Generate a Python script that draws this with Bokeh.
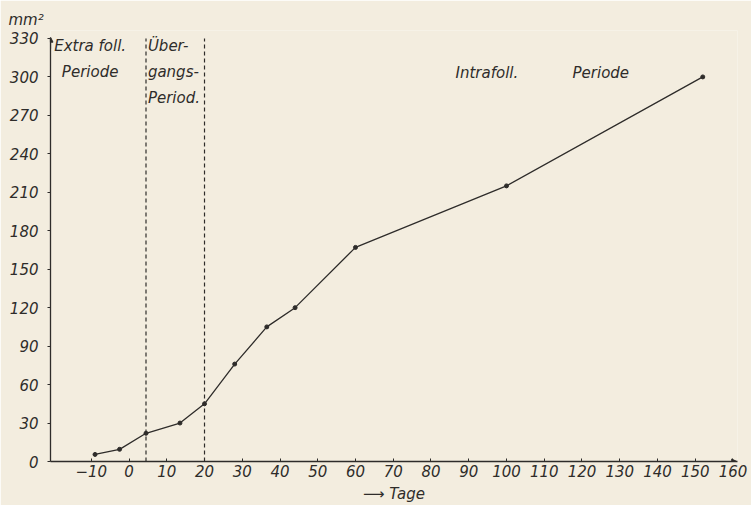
from bokeh.plotting import figure
from bokeh.models import Label, Arrow, NormalHead, FixedTicker, Range1d
from bokeh.embed import file_html
from bokeh.resources import INLINE

# Data
days = [-9, -2.5, 4.5, 13.5, 20, 28, 36.5, 44, 60, 100, 152]
area = [5.5, 9.5, 22, 30, 45, 76, 105, 120, 167, 215, 300]
period_bounds = [4.5, 20]
x_ticks = [-10, 0, 10, 20, 30, 40, 50, 60, 70, 80, 90, 100, 110, 120, 130, 140, 150, 160]
y_ticks = [0, 30, 60, 90, 120, 150, 180, 210, 240, 270, 300, 330]

FONT = "DejaVu Sans"
INK = "#2e2c2a"
PAPER = "#f3eddf"

p = figure(width=751, height=505, output_backend="svg", toolbar_location=None,
           x_range=Range1d(-20.8, 161.2), y_range=Range1d(0, 336.2),
           min_border_left=50, min_border_right=14, min_border_top=30, min_border_bottom=44)
p.background_fill_color = PAPER
p.border_fill_color = PAPER
p.outline_line_color = None
p.grid.visible = False

p.title.text = "mm²"
p.title.align = "left"
p.title.offset = -42
p.title.text_font = FONT
p.title.text_font_style = "italic"
p.title.text_font_size = "15px"
p.title.text_color = INK
p.title.standoff = 4

for ax in (p.xaxis[0], p.yaxis[0]):
    ax.axis_line_color = INK
    ax.axis_line_width = 1.3
    ax.major_tick_line_color = INK
    ax.minor_tick_line_color = None
    ax.major_label_text_font = FONT
    ax.major_label_text_font_style = "italic"
    ax.major_label_text_font_size = "15px"
    ax.major_label_text_color = INK

p.xaxis.ticker = FixedTicker(ticks=x_ticks)
p.yaxis.ticker = FixedTicker(ticks=y_ticks)
p.yaxis.bounds = (0, 330)
p.xaxis.major_tick_in = 3
p.xaxis.major_tick_out = 0
p.xaxis.major_label_standoff = 3
p.xaxis.axis_label = "⟶ Tage"
p.xaxis.axis_label_standoff = 5
p.xaxis.axis_label_text_font = FONT
p.xaxis.axis_label_text_font_style = "italic"
p.xaxis.axis_label_text_font_size = "15px"
p.xaxis.axis_label_text_color = INK
p.yaxis.major_tick_in = 0
p.yaxis.major_tick_out = 3
p.yaxis.major_label_standoff = 9

# period boundaries
for xb in period_bounds:
    p.line([xb, xb], [0, 330], line_color=INK, line_width=1.2, line_dash="4 3")

# the growth curve
p.line(days, area, line_color=INK, line_width=1.3)
p.scatter(days, area, size=4, color=INK)

def lab(x, y, text, align="left", baseline="alphabetic", lh=1.2):
    p.add_layout(Label(x=x, y=y, text=text,
                       text_align=align, text_baseline=baseline,
                       text_font=FONT, text_font_style="italic",
                       text_font_size="15px", text_color=INK,
                       text_line_height=lh))

lab(-10.3, 331.5, "Extra foll.\nPeriode", align="center", baseline="top", lh=1.45)
lab(5.0, 331.5, "Über-\ngangs-\nPeriod.", align="left", baseline="top", lh=1.45)
lab(86.5, 303, "Intrafoll.")
lab(117.5, 303, "Periode")

# axis arrows
p.add_layout(Arrow(x_start=-20.8, y_start=322, x_end=-20.8, y_end=331,
                   line_color=INK, line_width=1.2,
                   end=NormalHead(size=5, fill_color=INK, line_color=INK)))
p.add_layout(Arrow(x_start=155, y_start=0, x_end=161.0, y_end=0,
                   line_color=INK, line_width=1.2,
                   end=NormalHead(size=5, fill_color=INK, line_color=INK)))

open("out.html", "w").write(file_html(p, INLINE))
